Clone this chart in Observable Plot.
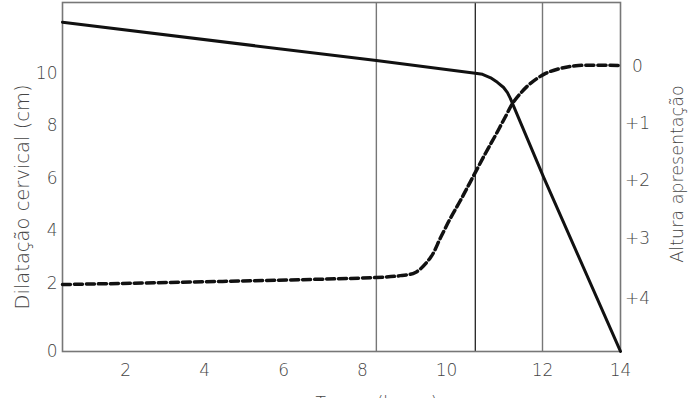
<!DOCTYPE html>
<html><head><meta charset="utf-8">
<script src="https://cdn.jsdelivr.net/npm/d3@7"></script>
<script src="https://cdn.jsdelivr.net/npm/@observablehq/plot@0.6"></script>
<style>body{margin:0;background:#fff;overflow:hidden}</style>
</head><body><div id="chart"></div>
<script>
// Tick values / labels
const hoursTicks = [2, 4, 6, 8, 10, 12, 14];
const dilationTicks = [0, 2, 4, 6, 8, 10];
const stationTicks = [0, 1, 2, 3, 4];
const stationLabels = ["0", "+1", "+2", "+3", "+4"];
const grayMarkers = [8.33, 12];
const blackMarkers = [10.6];

// Dashed series: cervical dilation (cm), left axis
const dilationHours  = [0.4, 8.33, 8.9, 9.26, 9.62, 9.86, 10.08, 10.29, 10.5, 10.81, 11.02, 11.23, 11.375, 11.54, 11.75, 12.08, 12.46, 12.92, 14];
const dilationValues = [1.97, 2.23, 2.30, 2.42, 2.99, 3.75, 4.48, 5.16, 5.88, 6.95, 7.64, 8.36, 8.85, 9.24, 9.62, 10.0, 10.19, 10.30, 10.30];

// Solid series: station of presenting part, right axis
const stationHours  = [0.4, 8.33, 10.6, 10.75, 10.92, 11.06, 11.19, 11.27, 11.33, 11.4, 12.03, 14];
const stationValues = [-0.77, -0.10, 0.12, 0.14, 0.20, 0.28, 0.37, 0.46, 0.56, 0.70, 1.94, 4.71];

const dilationData = dilationHours.map((h, i) => ({hour: h, value: dilationValues[i]}));
const stationData = stationHours.map((h, i) => ({hour: h, value: stationValues[i]}));

// right-axis (station) to left-axis (dilation) mapping
const stationToDilation = d3.scaleLinear().domain([0, 4]).range([10.27, 1.55]);

const font = "DejaVu Sans";
const textColor = "#454545";

const chart = Plot.plot({
  width: 694, height: 398,
  marginLeft: 62, marginRight: 74, marginTop: 2, marginBottom: 47,
  style: {fontFamily: font, fontSize: "17px", fontWeight: 300, color: textColor, background: "#fff", overflow: "visible"},
  x: {type: "linear", domain: [0.4, 8, 10, 12, 14], range: [62, 362, 446, 542, 620], label: null},
  y: {type: "linear", domain: [0, 2, 12.7], range: [351, 283, 2], label: null},
  marks: [
    Plot.ruleX(grayMarkers, {stroke: "#777", strokeWidth: 1.4}),
    Plot.ruleX(blackMarkers, {stroke: "#222", strokeWidth: 1.3}),
    Plot.frame({stroke: "#777", strokeWidth: 1.6}),
    Plot.line(dilationData, {x: "hour", y: "value", stroke: "#111", strokeWidth: 3.5, strokeDasharray: "8,4", curve: "catmull-rom"}),
    Plot.line(stationData, {x: "hour", y: d => stationToDilation(d.value), stroke: "#111", strokeWidth: 3, curve: "linear", strokeLinejoin: "round"}),
    Plot.axisX(hoursTicks, {tickSize: 0, tickPadding: 12, fontSize: 17, label: null}),
    Plot.axisY(dilationTicks, {anchor: "left", tickSize: 0, tickPadding: 5, fontSize: 17, label: null}),
    Plot.axisY(stationTicks.map(s => stationToDilation(s)), {anchor: "right", tickSize: 0, tickPadding: 17, textAnchor: "middle", fontSize: 17, label: null,
      tickFormat: d => stationLabels[Math.round(stationToDilation.invert(d))]}),
    Plot.text(["Dilatação cervical (cm)"], {frameAnchor: "left", rotate: -90, textAnchor: "middle", dx: -40, dy: 20, fontSize: 19.5, fill: textColor}),
    Plot.text(["Altura apresentação"], {frameAnchor: "right", rotate: -90, textAnchor: "middle", dx: 57, dy: -3, fontSize: 17.5, fill: textColor}),
    Plot.text(["Tempo (horas)"], {frameAnchor: "bottom", dx: 35, dy: 57, fontSize: 17, fill: textColor})
  ]
});
document.getElementById("chart").appendChild(chart);
</script>
</body></html>
